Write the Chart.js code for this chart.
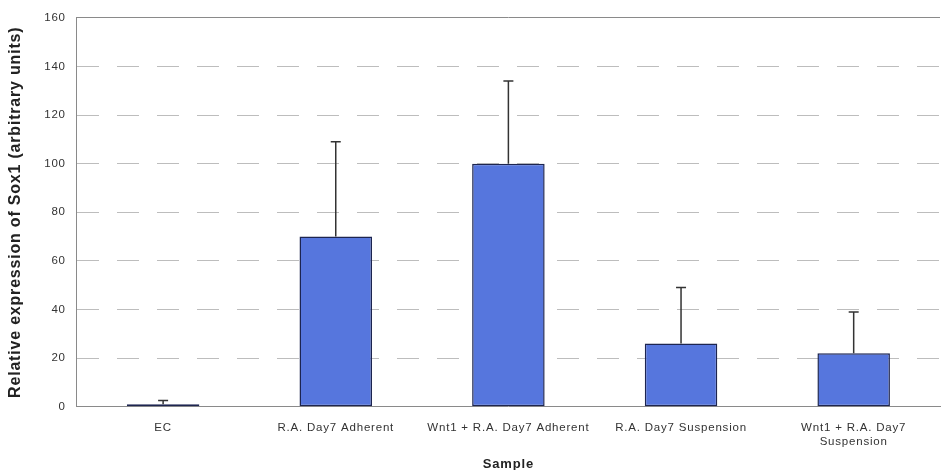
<!DOCTYPE html>
<html>
<head>
<meta charset="utf-8">
<script src="https://cdn.jsdelivr.net/npm/chart.js@4.4.0/dist/chart.umd.min.js"></script>
<style>
  html, body { margin: 0; padding: 0; background: #fff; }
  #wrap { width: 942px; height: 470px; }
</style>
</head>
<body>
<div id="wrap"><canvas id="sox1Chart" width="942" height="470"></canvas></div>
<script>
// values
const sampleLabels = [
  'EC',
  'R.A. Day7 Adherent',
  'Wnt1 + R.A. Day7 Adherent',
  'R.A. Day7 Suspension',
  ['Wnt1 + R.A. Day7', 'Suspension']
];
const sox1Values = [1, 70, 100, 26, 22];
const sox1Errors = [1.5, 39, 34, 23, 17];
const yTicks = [0, 20, 40, 60, 80, 100, 120, 140, 160];

const FONT = 'Arial, "Liberation Sans", sans-serif';

// the scanned labels are spaced out a little
const spacingPlugin = {
  id: 'spacing',
  beforeUpdate(chart) { chart.ctx.letterSpacing = '0.8px'; },
  beforeDraw(chart) { chart.ctx.letterSpacing = '0.8px'; }
};

// upper error bars with a small cap
const errorBarPlugin = {
  id: 'errorBars',
  afterDatasetsDraw(chart) {
    const ctx = chart.ctx;
    const yScale = chart.scales.y;
    const meta = chart.getDatasetMeta(0);
    ctx.save();
    ctx.strokeStyle = '#333333';
    ctx.lineWidth = 1.5;
    meta.data.forEach((bar, i) => {
      const x = bar.x;
      const yTop = yScale.getPixelForValue(sox1Values[i] + sox1Errors[i]);
      const yBase = yScale.getPixelForValue(sox1Values[i]);
      ctx.beginPath();
      ctx.moveTo(x, yBase);
      ctx.lineTo(x, yTop);
      ctx.moveTo(x - 5, yTop);
      ctx.lineTo(x + 5, yTop);
      ctx.stroke();
    });
    ctx.restore();
  }
};

const ctx = document.getElementById('sox1Chart').getContext('2d');
new Chart(ctx, {
  type: 'bar',
  data: {
    labels: sampleLabels,
    datasets: [{
      data: sox1Values,
      backgroundColor: '#5676dd',
      borderColor: '#1d2550',
      borderWidth: 1.5,
      borderSkipped: false,
      barPercentage: 0.42,
      categoryPercentage: 1
    }]
  },
  options: {
    responsive: false,
    animation: false,
    layout: { padding: { left: 6, right: 2, top: 10, bottom: 0 } },
    plugins: {
      legend: { display: false },
      tooltip: { enabled: false }
    },
    scales: {
      x: {
        grid: { display: false, drawTicks: false },
        border: { display: true, color: '#8a8a8a', width: 1 },
        ticks: {
          color: '#333',
          font: { family: FONT, size: 11.5, lineHeight: 1.25 },
          maxRotation: 0,
          autoSkip: false,
          padding: 14
        },
        title: {
          display: true,
          text: 'Sample',
          color: '#222',
          font: { family: FONT, size: 13, weight: 'bold' },
          padding: { top: -7, bottom: -2 }
        }
      },
      y: {
        min: 0,
        max: 160,
        afterBuildTicks(axis) {
          axis.ticks = yTicks.map(v => ({ value: v }));
        },
        grid: {
          drawTicks: false,
          color: ctx => ctx.tick && ctx.tick.value === 160 ? '#8a8a8a' : '#bdbdbd',
          lineWidth: 1
        },
        border: {
          display: true,
          color: '#8a8a8a',
          width: 1,
          dash: ctx => ctx.tick && ctx.tick.value === 160 ? [] : [22, 18]
        },
        ticks: {
          color: '#333',
          font: { family: FONT, size: 11.5 },
          padding: 11
        },
        title: {
          display: true,
          text: 'Relative expression of Sox1 (arbitrary units)',
          color: '#222',
          font: { family: FONT, size: 16, weight: 'bold' },
          padding: { top: 0, bottom: 8 }
        }
      }
    }
  },
  plugins: [spacingPlugin, errorBarPlugin]
});
</script>
</body>
</html>
